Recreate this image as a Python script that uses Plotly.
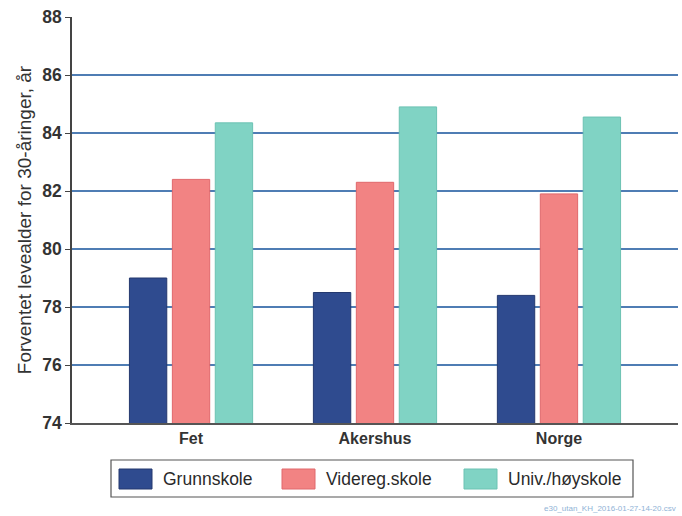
import plotly.graph_objects as go

# Expected remaining life expectancy for 30-year-olds, by education level
regions = ["Fet", "Akershus", "Norge"]
series_names = ["Grunnskole", "Videreg.skole", "Univ./høyskole"]
grunnskole = [79.0, 78.5, 78.4]
videreg = [82.4, 82.3, 81.9]
univ = [84.35, 84.9, 84.55]
series_values = [grunnskole, videreg, univ]
series_colors = ["#2f4b8f", "#f28383", "#80d3c4"]
outline_colors = ["#24396f", "#e0686c", "#6cc2b3"]

y_ticks = [74, 76, 78, 80, 82, 84, 86, 88]
source_note = "e30_utan_KH_2016-01-27-14-20.csv"

FONT = "Liberation Sans, Arial, sans-serif"

fig = go.Figure()
for name, vals, col, edge in zip(series_names, series_values, series_colors, outline_colors):
    fig.add_trace(go.Bar(
        x=list(range(len(regions))), y=vals, name=name,
        marker=dict(color=col, line=dict(color=edge, width=1)),
        base=0,
    ))

# Hand-drawn legend box with wide swatches below the plot
lx0, lx1 = (111 - 72) / 606, (633 - 72) / 606
ly0, ly1 = (423 - 497) / 406, (423 - 460) / 406
shapes = [dict(type="rect", xref="paper", yref="paper", x0=lx0, x1=lx1, y0=ly0, y1=ly1,
               line=dict(color="#555555", width=1.2), fillcolor="white", layer="above")]
annotations = []
item_px = [119, 282, 464]
for px, name, col, edge in zip(item_px, series_names, series_colors, outline_colors):
    shapes.append(dict(type="rect", xref="paper", yref="paper",
                       x0=(px - 72) / 606, x1=(px + 33 - 72) / 606,
                       y0=(423 - 489) / 406, y1=(423 - 469) / 406,
                       fillcolor=col, line=dict(color=edge, width=1), layer="above"))
    annotations.append(dict(xref="paper", yref="paper", x=(px + 42 - 72) / 606,
                            y=(423 - 479) / 406, text=name, showarrow=False,
                            xanchor="left", yanchor="middle",
                            font=dict(family=FONT, size=17.5, color="#2a2a2a")))

annotations.append(dict(xref="paper", yref="paper", x=1.0, y=(423 - 508) / 406,
                        text=source_note, showarrow=False, xanchor="right", yanchor="middle",
                        font=dict(family=FONT, size=8, color="#8fb3d6")))

fig.update_layout(
    width=682, height=516,
    margin=dict(l=72, r=4, t=17, b=93),
    paper_bgcolor="white", plot_bgcolor="white",
    barmode="group", bargap=0.3, bargroupgap=0.13,
    showlegend=False,
    shapes=shapes, annotations=annotations,
    font=dict(family=FONT, color="#333333"),
    xaxis=dict(
        tickmode="array", tickvals=list(range(len(regions))), ticktext=regions,
        range=[-0.647, 2.647], showgrid=False, zeroline=False,
        showline=True, linecolor="#555555", linewidth=1.5, ticks="",
        tickfont=dict(family=FONT, size=16, color="#333333", weight="bold"),
    ),
    yaxis=dict(
        range=[74, 88], tickvals=y_ticks, showgrid=True, gridcolor="#4f7db4", gridwidth=1.5,
        zeroline=False, showline=True, linecolor="#444444", linewidth=1.5,
        ticks="outside", ticklen=5, tickcolor="#444444",
        tickfont=dict(family=FONT, size=17.5, color="#333333", weight="bold"),
        title=dict(text="Forventet levealder for 30-åringer, år", standoff=6,
                   font=dict(family=FONT, size=19, color="#333333")),
    ),
)

fig.write_html("out.html")
